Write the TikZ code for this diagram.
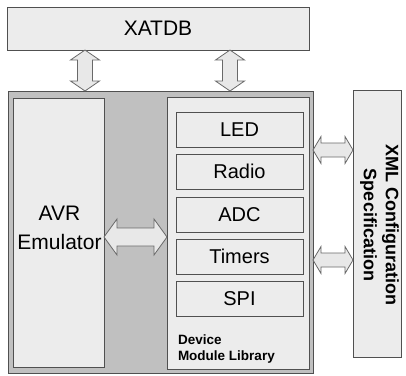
\documentclass[tikz,border=0pt]{standalone}
\usepackage{fontspec}
\setmainfont{Liberation Sans}
\usetikzlibrary{calc}

\definecolor{boxfill}{RGB}{236,236,236}
\definecolor{panel}{RGB}{192,192,192}
\definecolor{edge}{RGB}{80,80,80}
\definecolor{arrowedge}{RGB}{105,105,105}
\definecolor{arrowfill}{RGB}{232,232,232}

\tikzset{
  box/.style={draw=edge, fill=boxfill, line width=0.9pt, inner sep=0pt,
              outer sep=0pt, anchor=north west},
  panelbox/.style={box, fill=panel},
  module/.style={box, minimum width=127pt, minimum height=35pt,
                 font=\fontsize{20}{24}\selectfont},
  label/.style={inner sep=0pt, outer sep=0pt, text=black},
  bigarrow/.style={draw=arrowedge, fill=arrowfill, line width=0.8pt, line join=miter},
  % horizontal double-headed block arrow: head length, half head width, half shaft width
  hdbl/.style n args={3}{to path={
    let \p1=(\tikztostart), \p2=(\tikztotarget) in
    (\x1,\y1) -- (\x1+#1,\y1+#2) -- (\x1+#1,\y1+#3) -- (\x2-#1,\y1+#3)
    -- (\x2-#1,\y1+#2) -- (\x2,\y1) -- (\x2-#1,\y1-#2) -- (\x2-#1,\y1-#3)
    -- (\x1+#1,\y1-#3) -- (\x1+#1,\y1-#2) -- cycle}},
  % vertical double-headed block arrow, drawn from top to bottom
  vdbl/.style n args={3}{to path={
    let \p1=(\tikztostart), \p2=(\tikztotarget) in
    (\x1,\y1) -- (\x1+#2,\y1-#1) -- (\x1+#3,\y1-#1) -- (\x1+#3,\y2+#1)
    -- (\x1+#2,\y2+#1) -- (\x1,\y2) -- (\x1-#2,\y2+#1) -- (\x1-#3,\y2+#1)
    -- (\x1-#3,\y1-#1) -- (\x1-#2,\y1-#1) -- cycle}}
}

\begin{document}
\begin{tikzpicture}[x=1pt, y=-1pt]
  \useasboundingbox[fill=white] (0,0) rectangle (406,375);

  % database on top
  \node[box, minimum width=302pt, minimum height=43pt,
        font=\fontsize{21}{25}\selectfont] (xatdb) at (7,7) {XATDB\hspace{12pt}};

  % simulator panel
  \node[panelbox, minimum width=305pt, minimum height=282pt] (outer) at (8,91) {};
  \node[box, minimum width=91pt, minimum height=269pt] (avr) at (13,98) {};
  \node[label, align=center, font=\fontsize{21}{29}\selectfont]
       (avrtext) at ($(avr.center)+(1,-5)$) {AVR\\Emulator};

  \node[box, minimum width=142pt, minimum height=272pt] (dml) at (167,97) {};
  \node[module] (led)    at (176,112) {LED};
  \node[module] (radio)  at (176,154) {Radio};
  \node[module] (adc)    at (176,197) {ADC};
  \node[module] (timers) at (176,239) {Timers};
  \node[module] (spi)    at (176,281) {SPI};
  \node[label, anchor=south west, align=left,
        font=\fontsize{13.5}{16}\selectfont\bfseries]
       (dmltext) at (178,363) {Device\\Module Library};

  % configuration file
  \node[box, minimum width=48pt, minimum height=267pt] (xml) at (353,90) {};
  \node[label, rotate=-90, align=center, font=\fontsize{18}{22}\selectfont\bfseries]
       (xmltext) at ($(xml.center)+(2.5,1.5)$) {XML Configuration\\Specification};

  % block arrows
  \draw[bigarrow, vdbl={10pt}{14.5pt}{7.5pt}] (xatdb.south -| 85,0) to (outer.north -| 85,0);
  \draw[bigarrow, vdbl={10pt}{14.5pt}{7.5pt}] (xatdb.south -| 230,0) to (outer.north -| 230,0);
  \draw[bigarrow, hdbl={13pt}{18pt}{9pt}] (avr.east |- 0,237) to (dml.west |- 0,237);
  \draw[bigarrow, hdbl={8pt}{13.5pt}{7pt}] (outer.east |- 0,150) to (xml.west |- 0,150);
  \draw[bigarrow, hdbl={8pt}{13.5pt}{7pt}] (outer.east |- 0,260) to (xml.west |- 0,260);
\end{tikzpicture}
\end{document}
